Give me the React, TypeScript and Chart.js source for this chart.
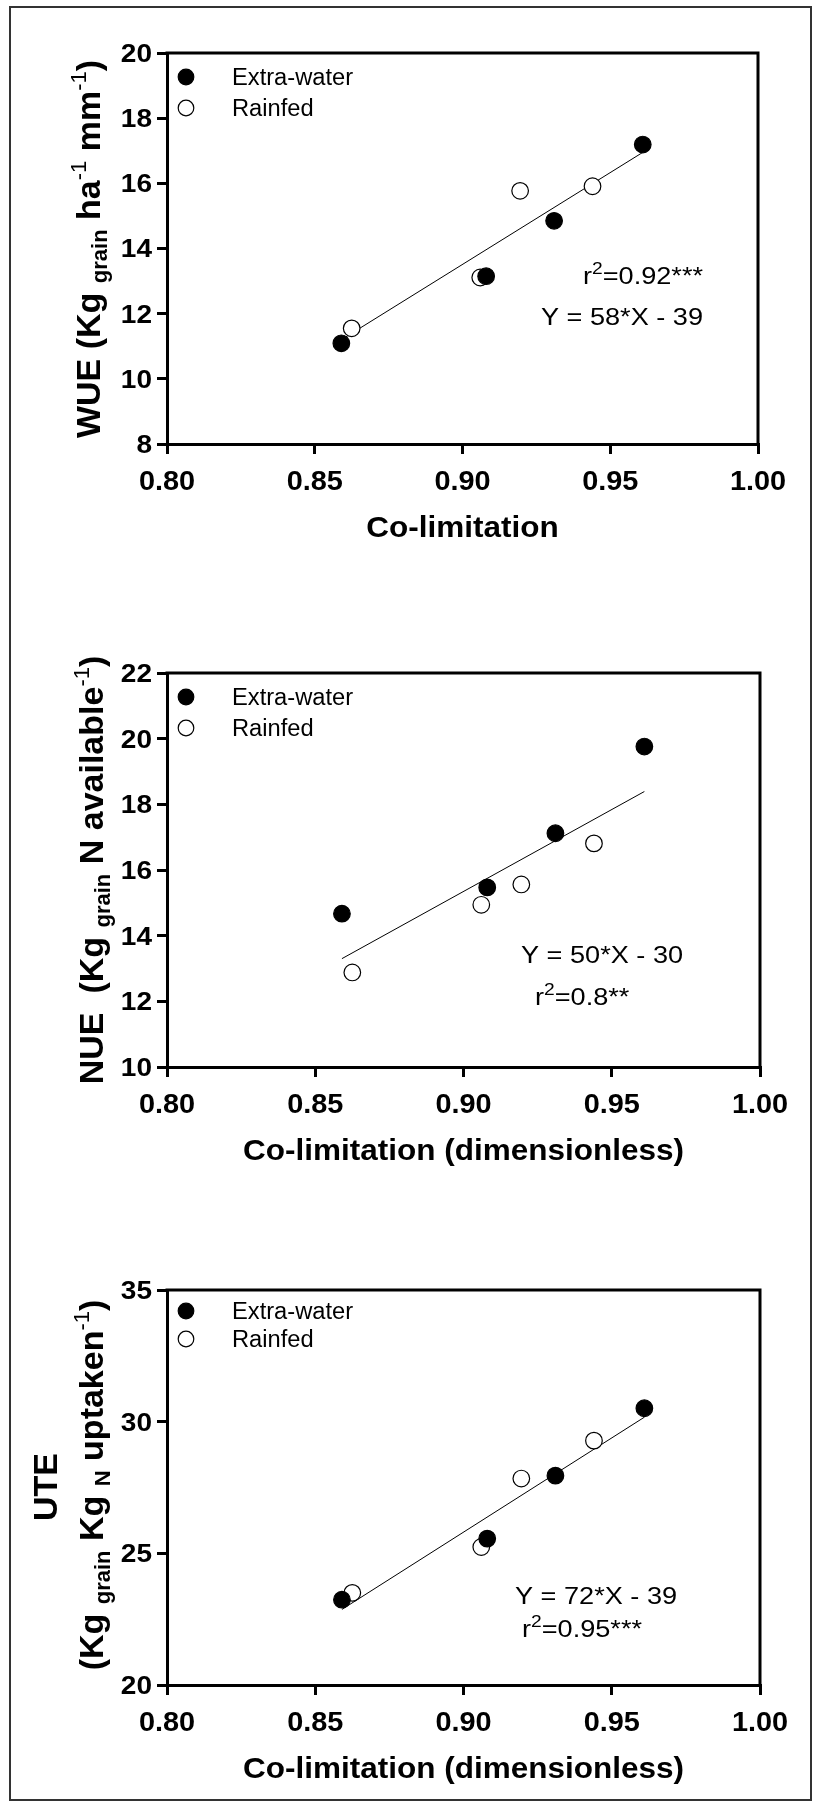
import React, { useEffect, useRef } from "react";
import { Chart, registerables } from "chart.js";

Chart.register(...registerables);

// ---------- data ----------
const seriesNames = ["Extra-water", "Rainfed"];
const coLimExtra = [0.859, 0.908, 0.931, 0.961];
const coLimRainfed = [0.8625, 0.906, 0.9195, 0.944];
const fitX = [0.859, 0.961];

const wueExtra = [11.09, 13.15, 14.85, 17.19];
const wueRainfed = [11.55, 13.11, 15.77, 15.91];
const wueFitY = [11.2, 16.95];

const nueExtra = [14.67, 15.47, 17.12, 19.76];
const nueRainfed = [12.88, 14.94, 15.56, 16.81];
const nueFitY = [13.3, 18.39];

const uteExtra = [23.24, 25.56, 27.95, 30.51];
const uteRainfed = [23.5, 25.24, 27.84, 29.28];
const uteFitY = [22.87, 30.17];

const xTickValues = [0.8, 0.85, 0.9, 0.95, 1.0];
const xTickLabels = ["0.80", "0.85", "0.90", "0.95", "1.00"];
const wueTicks = [8, 10, 12, 14, 16, 18, 20];
const nueTicks = [10, 12, 14, 16, 18, 20, 22];
const uteTicks = [20, 25, 30, 35];

// ---------- text helpers ----------
type Seg = { t: string; size: number; bold?: boolean; dy?: number };
const FAMILY = '"Liberation Sans", Arial, Helvetica, sans-serif';
const fontOf = (s: Seg) => `${s.bold ? "bold " : ""}${s.size}px ${FAMILY}`;

function drawRich(
  ctx: CanvasRenderingContext2D,
  segs: Seg[],
  x: number,
  y: number,
  align: "left" | "center" | "right",
  sx = 1,
  rot = 0
) {
  ctx.save();
  ctx.translate(x, y);
  if (rot) ctx.rotate(rot);
  ctx.scale(sx, 1);
  let total = 0;
  const widths: number[] = [];
  for (const s of segs) {
    ctx.font = fontOf(s);
    const w = ctx.measureText(s.t).width;
    widths.push(w);
    total += w;
  }
  let cx = align === "left" ? 0 : align === "center" ? -total / 2 : -total;
  const base = segs[0].size * 0.716 * 0.5;
  ctx.textAlign = "left";
  ctx.textBaseline = "alphabetic";
  ctx.fillStyle = "#000";
  segs.forEach((s, i) => {
    ctx.font = fontOf(s);
    ctx.fillText(s.t, cx, base + (s.dy || 0));
    cx += widths[i];
  });
  ctx.restore();
}

type Panel = {
  top: number;
  height: number;
  padding: { left: number; right: number; top: number; bottom: number };
  yMin: number;
  yMax: number;
  yStep: number;
  yTicks: number[];
  extra: number[];
  rainfed: number[];
  fitY: number[];
  xTitle: string;
  yTitles: { segs: Seg[]; x: number; y: number }[];
  notes: { segs: Seg[]; x: number; y: number; align: "left" | "right" }[];
  legendDy: [number, number];
};

const SUB = 7;
const SUP = -14;

const panels: Panel[] = [
  {
    top: 0,
    height: 600,
    padding: { left: 147, right: 55, top: 53, bottom: 136 },
    yMin: 8,
    yMax: 20,
    yStep: 2,
    yTicks: wueTicks,
    extra: wueExtra,
    rainfed: wueRainfed,
    fitY: wueFitY,
    xTitle: "Co-limitation",
    yTitles: [
      {
        segs: [
          { t: "WUE (Kg ", size: 34, bold: true },
          { t: "grain", size: 22, bold: true, dy: SUB },
          { t: " ha", size: 34, bold: true },
          { t: "-1", size: 22, bold: false, dy: SUP },
          { t: " mm", size: 34, bold: true },
          { t: "-1", size: 22, bold: false, dy: SUP },
          { t: ")", size: 34, bold: true },
        ],
        x: 88,
        y: 249,
      },
    ],
    notes: [
      {
        segs: [
          { t: "r", size: 24 },
          { t: "2", size: 17, dy: -10 },
          { t: "=0.92***", size: 24 },
        ],
        x: 703,
        y: 275,
        align: "right",
      },
      { segs: [{ t: "Y = 58*X - 39", size: 24 }], x: 703, y: 316, align: "right" },
    ],
    legendDy: [24, 55],
  },
  {
    top: 600,
    height: 600,
    padding: { left: 147, right: 53, top: 73, bottom: 113 },
    yMin: 10,
    yMax: 22,
    yStep: 2,
    yTicks: nueTicks,
    extra: nueExtra,
    rainfed: nueRainfed,
    fitY: nueFitY,
    xTitle: "Co-limitation (dimensionless)",
    yTitles: [
      {
        segs: [
          { t: "NUE  (Kg ", size: 34, bold: true },
          { t: "grain", size: 22, bold: true, dy: SUB },
          { t: " N available", size: 34, bold: true },
          { t: "-1", size: 22, bold: false, dy: SUP },
          { t: ")", size: 34, bold: true },
        ],
        x: 91,
        y: 270,
      },
    ],
    notes: [
      { segs: [{ t: "Y = 50*X - 30", size: 24 }], x: 521, y: 354, align: "left" },
      {
        segs: [
          { t: "r", size: 24 },
          { t: "2", size: 17, dy: -10 },
          { t: "=0.8**", size: 24 },
        ],
        x: 535,
        y: 396,
        align: "left",
      },
    ],
    legendDy: [24, 55],
  },
  {
    top: 1200,
    height: 603,
    padding: { left: 147, right: 53, top: 90, bottom: 98 },
    yMin: 20,
    yMax: 35,
    yStep: 5,
    yTicks: uteTicks,
    extra: uteExtra,
    rainfed: uteRainfed,
    fitY: uteFitY,
    xTitle: "Co-limitation (dimensionless)",
    yTitles: [
      { segs: [{ t: "UTE", size: 34, bold: true }], x: 45, y: 287 },
      {
        segs: [
          { t: "(Kg ", size: 34, bold: true },
          { t: "grain", size: 22, bold: true, dy: SUB },
          { t: " Kg ", size: 34, bold: true },
          { t: "N", size: 22, bold: true, dy: SUB },
          { t: " uptaken", size: 34, bold: true },
          { t: "-1", size: 22, bold: false, dy: SUP },
          { t: ")", size: 34, bold: true },
        ],
        x: 91,
        y: 285,
      },
    ],
    notes: [
      { segs: [{ t: "Y = 72*X - 39", size: 24 }], x: 515, y: 395, align: "left" },
      {
        segs: [
          { t: "r", size: 24 },
          { t: "2", size: 17, dy: -10 },
          { t: "=0.95***", size: 24 },
        ],
        x: 522,
        y: 428,
        align: "left",
      },
    ],
    legendDy: [21, 49],
  },
];

function makeDecor(p: Panel) {
  return {
    id: "panelDecor",
    afterDraw(chart: any) {
      const ctx: CanvasRenderingContext2D = chart.ctx;
      const a = chart.chartArea;
      const xs = chart.scales.x;
      const ys = chart.scales.y;
      // box top & right
      ctx.save();
      ctx.strokeStyle = "#000";
      ctx.lineWidth = 3;
      ctx.lineCap = "square";
      ctx.beginPath();
      ctx.moveTo(a.left, a.top);
      ctx.lineTo(a.right, a.top);
      ctx.lineTo(a.right, a.bottom);
      ctx.stroke();
      ctx.restore();
      // y tick labels
      p.yTicks.forEach((v) => {
        drawRich(ctx, [{ t: String(v), size: 25, bold: true }], a.left - 15, ys.getPixelForValue(v), "right", 1.12);
      });
      // x tick labels
      xTickValues.forEach((v, i) => {
        drawRich(ctx, [{ t: xTickLabels[i], size: 27, bold: true }], xs.getPixelForValue(v), a.bottom + 36.5, "center", 1.07);
      });
      // x title
      drawRich(ctx, [{ t: p.xTitle, size: 30, bold: true }], (a.left + a.right) / 2, a.bottom + 82, "center", 1.05);
      // y titles
      p.yTitles.forEach((t) => drawRich(ctx, t.segs, t.x, t.y, "center", 1, -Math.PI / 2));
      // legend
      const ds = chart.data.datasets;
      [0, 1].forEach((i) => {
        const cy = a.top + p.legendDy[i];
        ctx.save();
        ctx.beginPath();
        ctx.arc(186, cy, 7.8, 0, Math.PI * 2);
        ctx.fillStyle = ds[i].pointBackgroundColor;
        ctx.fill();
        ctx.lineWidth = 1.2;
        ctx.strokeStyle = "#000";
        ctx.stroke();
        ctx.restore();
        drawRich(ctx, [{ t: ds[i].label, size: 23 }], 232, cy, "left", 1.03);
      });
      // annotations
      p.notes.forEach((n) => drawRich(ctx, n.segs, n.x, n.y, n.align, 1.13));
    },
  };
}

function PanelChart({ p }: { p: Panel }) {
  const ref = useRef<HTMLCanvasElement | null>(null);
  useEffect(() => {
    if (!ref.current) return;
    const gridOpts = {
      display: true,
      drawOnChartArea: false,
      drawTicks: true,
      tickLength: 10,
      color: "#000",
      lineWidth: 3,
    };
    const chart = new Chart(ref.current, {
      type: "scatter",
      data: {
        datasets: [
          {
            label: seriesNames[0],
            data: coLimExtra.map((x, i) => ({ x, y: p.extra[i] })),
            pointRadius: 8.3,
            pointBackgroundColor: "#000",
            pointBorderColor: "#000",
            pointBorderWidth: 1.2,
            showLine: false,
          },
          {
            label: seriesNames[1],
            data: coLimRainfed.map((x, i) => ({ x, y: p.rainfed[i] })),
            pointRadius: 8.3,
            pointBackgroundColor: "#fff",
            pointBorderColor: "#000",
            pointBorderWidth: 1.2,
            showLine: false,
          },
          {
            label: "Linear fit",
            data: fitX.map((x, i) => ({ x, y: p.fitY[i] })),
            pointRadius: 0,
            showLine: true,
            borderColor: "#000",
            borderWidth: 1,
            fill: false,
          },
        ],
      } as any,
      options: {
        responsive: false,
        animation: false,
        devicePixelRatio: 1,
        layout: { padding: p.padding },
        plugins: {
          legend: { display: false },
          tooltip: { enabled: false },
          title: { display: false },
        },
        scales: {
          x: {
            type: "linear",
            min: 0.8,
            max: 1.0,
            ticks: { display: false, stepSize: 0.05 },
            grid: gridOpts,
            border: { display: true, color: "#000", width: 3 },
            afterFit: (s: any) => {
              s.height = 20;
            },
          },
          y: {
            type: "linear",
            min: p.yMin,
            max: p.yMax,
            ticks: { display: false, stepSize: p.yStep },
            grid: gridOpts,
            border: { display: true, color: "#000", width: 3 },
            afterFit: (s: any) => {
              s.width = 20;
            },
          },
        },
      } as any,
      plugins: [makeDecor(p)],
    });
    return () => chart.destroy();
  }, [p]);
  return (
    <canvas
      ref={ref}
      width={813}
      height={p.height}
      style={{ position: "absolute", left: 0, top: p.top, width: 813, height: p.height, display: "block" }}
    />
  );
}

export default function App() {
  return (
    <div style={{ position: "absolute", left: 0, top: 0, width: 813, height: 1803, background: "#fff", overflow: "hidden" }}>
      <div
        style={{
          position: "absolute",
          left: 9,
          top: 6,
          width: 803,
          height: 1795,
          border: "2px solid #333",
          boxSizing: "border-box",
        }}
      />
      {panels.map((p, i) => (
        <PanelChart key={i} p={p} />
      ))}
    </div>
  );
}
